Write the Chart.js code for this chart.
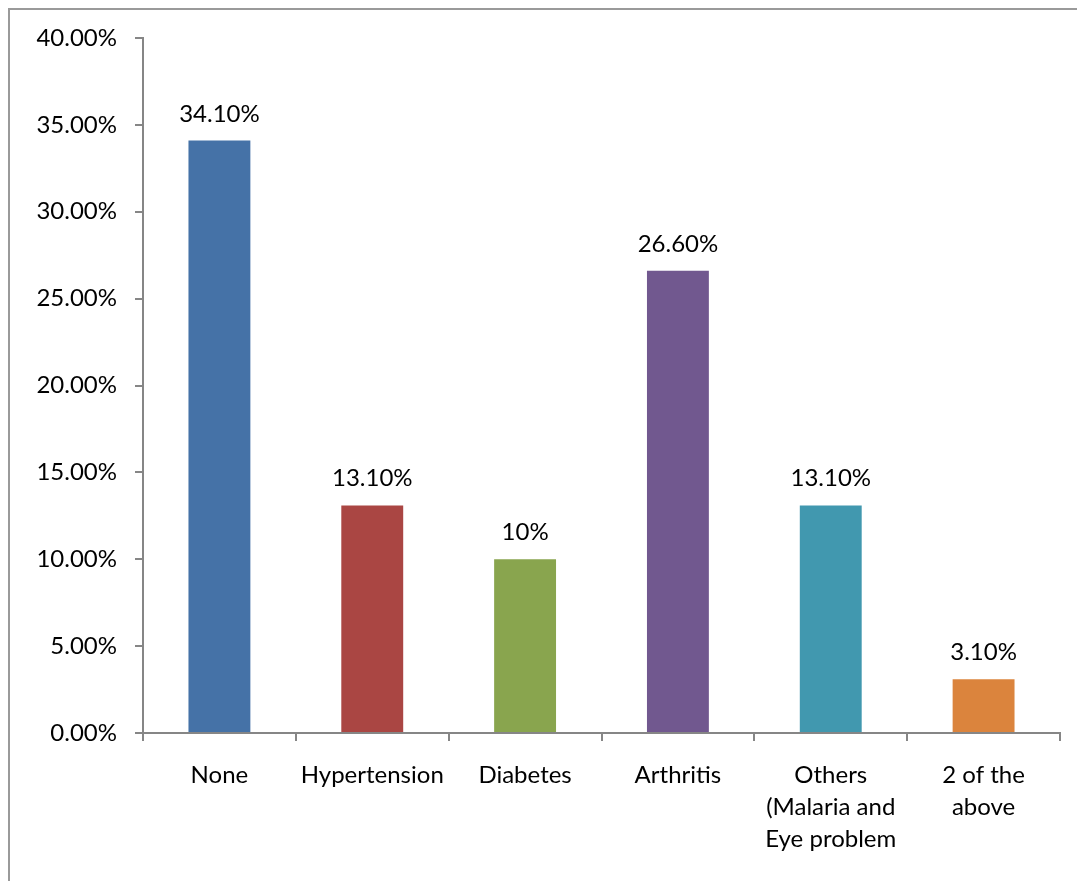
<!DOCTYPE html>
<html>
<head>
<meta charset="utf-8">
<script src="https://cdn.jsdelivr.net/npm/chart.js@4/dist/chart.umd.min.js"></script>
<style>
  html, body { margin: 0; padding: 0; background: #ffffff; }
  #wrap { position: relative; width: 1077px; height: 881px; overflow: hidden; }
  canvas { display: block; }
</style>
</head>
<body>
<div id="wrap"><canvas id="chart" width="1077" height="881"></canvas></div>
<script>
// Conditions reported by respondents (share of respondents, %)
const categories = [
  'None',
  'Hypertension',
  'Diabetes',
  'Arthritis',
  ['Others', '(Malaria and', 'Eye problem'],
  ['2 of the', 'above']
];
const shares = [34.1, 13.1, 10, 26.6, 13.1, 3.1];
const barColors = ['#4572A7', '#AA4643', '#89A54E', '#71588F', '#4198AF', '#DB843D'];
const yTicks = [0, 5, 10, 15, 20, 25, 30, 35, 40];

const FONT = 'Lato, "Open Sans", sans-serif';
const AXIS_GRAY = '#868686';

function shareLabel(v) {
  return Number.isInteger(v) ? v + '%' : v.toFixed(2) + '%';
}

// Outer frame around the chart
const framePlugin = {
  id: 'frame',
  beforeDraw(chart) {
    const ctx = chart.ctx;
    ctx.save();
    ctx.strokeStyle = '#9a9a9a';
    ctx.lineWidth = 2;
    ctx.strokeRect(9, 9, chart.width + 40, chart.height + 40);
    ctx.restore();
  }
};

// Value labels above each bar
const valueLabels = {
  id: 'valueLabels',
  afterDatasetsDraw(chart) {
    const ctx = chart.ctx;
    const meta = chart.getDatasetMeta(0);
    ctx.save();
    ctx.font = '24px ' + FONT;
    ctx.fillStyle = '#000000';
    ctx.textAlign = 'center';
    ctx.textBaseline = 'alphabetic';
    meta.data.forEach((bar, i) => {
      ctx.fillText(shareLabel(shares[i]), bar.x, bar.y - 19);
    });
    ctx.restore();
  }
};

new Chart(document.getElementById('chart'), {
  type: 'bar',
  data: {
    labels: categories,
    datasets: [{
      data: shares,
      backgroundColor: barColors,
      borderWidth: 0,
      categoryPercentage: 1,
      barPercentage: 0.405
    }]
  },
  options: {
    responsive: false,
    animation: false,
    devicePixelRatio: 1,
    layout: { padding: { left: 0, right: 17, top: 38, bottom: 0 } },
    plugins: {
      legend: { display: false },
      tooltip: { enabled: false }
    },
    scales: {
      x: {
        offset: true,
        grid: {
          display: true,
          offset: true,
          drawOnChartArea: false,
          drawTicks: true,
          tickLength: 8,
          color: AXIS_GRAY,
          lineWidth: 2
        },
        border: { display: true, color: AXIS_GRAY, width: 2 },
        ticks: {
          color: '#000000',
          font: { family: FONT, size: 24, lineHeight: 1.333 },
          padding: 18,
          maxRotation: 0,
          minRotation: 0,
          autoSkip: false
        },
        afterFit(scale) { scale.height = 148; }
      },
      y: {
        min: 0,
        max: 40,
        afterBuildTicks(scale) {
          scale.ticks = yTicks.map(v => ({ value: v }));
        },
        grid: {
          display: true,
          drawOnChartArea: false,
          drawTicks: true,
          tickLength: 8,
          color: AXIS_GRAY,
          lineWidth: 2
        },
        border: { display: true, color: AXIS_GRAY, width: 2 },
        ticks: {
          color: '#000000',
          font: { family: FONT, size: 24 },
          padding: 18,
          callback: v => v.toFixed(2) + '%'
        },
        afterFit(scale) { scale.width = 143; }
      }
    }
  },
  plugins: [framePlugin, valueLabels]
});
</script>
</body>
</html>
